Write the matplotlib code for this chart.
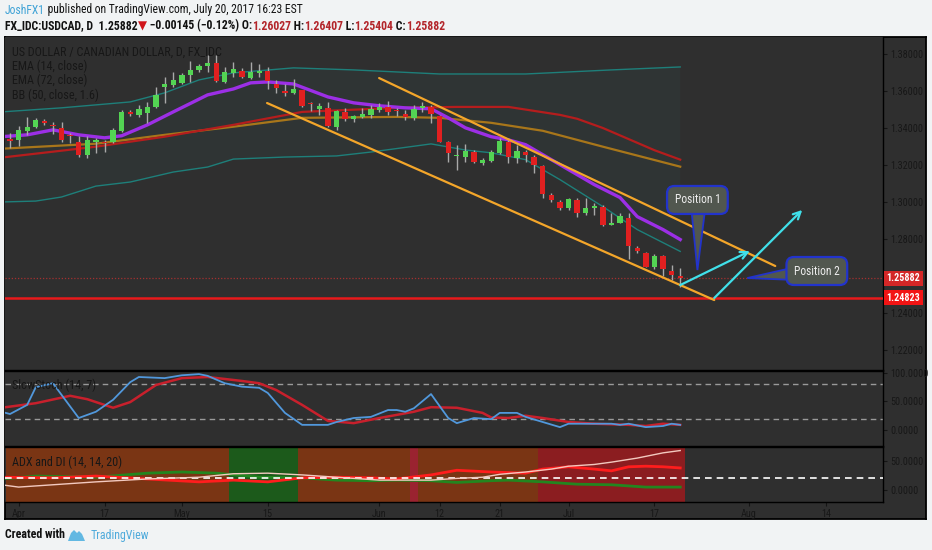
import numpy as np
import matplotlib.pyplot as plt
from matplotlib.patches import Polygon
from matplotlib import font_manager as fm

# pick a narrow sans if one is installed (the chart text is condensed)
fonts = fm.fontManager.ttflist
names = {f.name for f in fonts}
FAM, STRETCH = 'Lato', 'normal'
for fam in ('Liberation Sans Narrow', 'Roboto Condensed', 'Open Sans Condensed'):
    if fam in names:
        FAM, STRETCH = fam, 'normal'
        break
else:
    for fam in ('DejaVu Sans', 'Noto Sans', 'Open Sans'):
        if any(f.name == fam and 'condensed' in str(f.stretch) for f in fonts):
            FAM, STRETCH = fam, 'condensed'
            break
plt.rcParams['font.family'] = [FAM, 'DejaVu Sans']
plt.rcParams['font.stretch'] = STRETCH

# ---- daily candles (bar index 0 .. 78), USDCAD
opens = [1.3342, 1.3336, 1.3385, 1.3407, 1.3439, 1.3414, 1.3401, 1.3360, 1.3326, 1.3256,
         1.3326, 1.3322, 1.3326, 1.3385, 1.3487, 1.3471, 1.3482, 1.3514, 1.3622, 1.3633,
         1.3644, 1.3687, 1.3714, 1.3735, 1.3751, 1.3649, 1.3698, 1.3708, 1.3671, 1.3698,
         1.3708, 1.3638, 1.3601, 1.3590, 1.3606, 1.3533, 1.3504, 1.3509, 1.3407, 1.3487,
         1.3450, 1.3460, 1.3471, 1.3498, 1.3514, 1.3494, 1.3477, 1.3455, 1.3509, 1.3514,
         1.3466, 1.3326, 1.3248, 1.3245, 1.3272, 1.3212, 1.3223, 1.3266, 1.3326, 1.3239,
         1.3272, 1.3245, 1.3196, 1.3040, 1.3002, 1.2965, 1.3013, 1.2938, 1.2965, 1.2975,
         1.2878, 1.2889, 1.2916, 1.2749, 1.2727, 1.2646, 1.2706, 1.2625, 1.26027]
highs = [1.3374, 1.3412, 1.3460, 1.3455, 1.3450, 1.3433, 1.3433, 1.3374, 1.3358, 1.3358,
         1.3347, 1.3336, 1.3401, 1.3498, 1.3498, 1.3525, 1.3541, 1.3622, 1.3676, 1.3703,
         1.3698, 1.3762, 1.3746, 1.3795, 1.3795, 1.3730, 1.3757, 1.3725, 1.3757, 1.3746,
         1.3730, 1.3660, 1.3638, 1.3665, 1.3608, 1.3541, 1.3536, 1.3541, 1.3498, 1.3509,
         1.3471, 1.3509, 1.3525, 1.3536, 1.3547, 1.3509, 1.3498, 1.3525, 1.3541, 1.3525,
         1.3471, 1.3330, 1.3310, 1.3315, 1.3283, 1.3239, 1.3283, 1.3347, 1.3336, 1.3310,
         1.3283, 1.3256, 1.3202, 1.3051, 1.3013, 1.3024, 1.3024, 1.3024, 1.2997, 1.2986,
         1.2943, 1.2943, 1.2943, 1.2760, 1.2730, 1.2717, 1.2711, 1.2660, 1.26407]
lows = [1.3293, 1.3304, 1.3363, 1.3401, 1.3417, 1.3369, 1.3326, 1.3320, 1.3245, 1.3239,
        1.3266, 1.3272, 1.3320, 1.3379, 1.3466, 1.3460, 1.3428, 1.3509, 1.3536, 1.3622,
        1.3640, 1.3649, 1.3703, 1.3703, 1.3649, 1.3644, 1.3676, 1.3671, 1.3665, 1.3676,
        1.3611, 1.3590, 1.3574, 1.3585, 1.3514, 1.3493, 1.3471, 1.3407, 1.3390, 1.3439,
        1.3433, 1.3455, 1.3455, 1.3487, 1.3471, 1.3466, 1.3444, 1.3444, 1.3487, 1.3428,
        1.3322, 1.3218, 1.3175, 1.3218, 1.3212, 1.3202, 1.3218, 1.3262, 1.3212, 1.3212,
        1.3218, 1.3159, 1.3024, 1.3002, 1.2959, 1.2959, 1.2921, 1.2932, 1.2932, 1.2868,
        1.2873, 1.2886, 1.2690, 1.2727, 1.2646, 1.2640, 1.2602, 1.2580, 1.25404]
closes = [1.3331, 1.3390, 1.3407, 1.3444, 1.3428, 1.3410, 1.3336, 1.3358, 1.3256, 1.3336,
          1.3336, 1.3320, 1.3390, 1.3487, 1.3477, 1.3504, 1.3514, 1.3579, 1.3638, 1.3660,
          1.3687, 1.3714, 1.3735, 1.3751, 1.3654, 1.3703, 1.3719, 1.3676, 1.3703, 1.3708,
          1.3654, 1.3617, 1.3590, 1.3611, 1.3520, 1.3530, 1.3520, 1.3412, 1.3493, 1.3450,
          1.3466, 1.3477, 1.3504, 1.3514, 1.3487, 1.3492, 1.3460, 1.3504, 1.3520, 1.3477,
          1.3326, 1.3266, 1.3252, 1.3277, 1.3218, 1.3229, 1.3272, 1.3331, 1.3245, 1.3277,
          1.3256, 1.3202, 1.3045, 1.3013, 1.2970, 1.3018, 1.2943, 1.2965, 1.2981, 1.2878,
          1.2889, 1.2927, 1.2760, 1.2733, 1.2651, 1.2706, 1.2640, 1.2603, 1.25882]

# ---- overlays (bar index, value)
ema14_bars = [-1, 2, 5, 8, 11, 13, 16, 19, 23, 26, 28, 30, 33, 37, 40, 43, 46, 49, 51, 53,
              56, 58, 60, 62, 65, 68, 71, 73, 76, 78]
ema14_vals = [1.3353, 1.3363, 1.3390, 1.3363, 1.3347, 1.3358, 1.3417, 1.3487, 1.3579, 1.3611,
              1.3644, 1.3649, 1.3638, 1.3568, 1.3536, 1.3520, 1.3509, 1.3504, 1.3455, 1.3401,
              1.3353, 1.3336, 1.3310, 1.3256, 1.3175, 1.3094, 1.3024, 1.2921, 1.2851, 1.2797]
ema72_bars = [-1, 5, 10, 18, 26, 34, 45, 52, 58, 64, 66, 69, 72, 75, 78]
ema72_vals = [1.3240, 1.3272, 1.3299, 1.3353, 1.3417, 1.3487, 1.3509, 1.3514, 1.3514, 1.3471,
              1.3450, 1.3400, 1.3340, 1.3280, 1.3229]
basis_bars = [-1, 10, 18, 26, 34, 45, 50, 56, 62, 69, 78]
basis_vals = [1.3288, 1.3315, 1.3363, 1.3407, 1.3455, 1.3460, 1.3455, 1.3428, 1.3385, 1.3299, 1.3191]
bb_up_bars = [-1, 6, 14, 18, 22, 26, 33, 40, 50, 60, 70, 78]
bb_up_vals = [1.3487, 1.3509, 1.3541, 1.3590, 1.3660, 1.3698, 1.3725, 1.3714, 1.3692, 1.3692,
              1.3714, 1.3730]
bb_lo_bars = [-1, 3, 6, 10, 14, 19, 23, 26, 32, 38, 42, 49, 53, 56, 60, 64, 69, 73, 78]
bb_lo_vals = [1.3000, 1.3005, 1.3027, 1.3086, 1.3108, 1.3162, 1.3189, 1.3232, 1.3243, 1.3249,
              1.3270, 1.3314, 1.3281, 1.3266, 1.3229, 1.3121, 1.2975, 1.2851, 1.2733]

# drawn channel, arrows, levels
chan_up = [(42.96, 1.3670), (89.06, 1.2654)]
chan_lo = [(29.92, 1.3535), (81.96, 1.2470)]
arrow1 = [(78.0, 1.2551), (86.1, 1.2735)]
arrow2 = [(81.96, 1.2481), (92.2, 1.2957)]
support = 1.24823
last_close = 1.25882

# ---- slow stochastic
k_bars = [-1, 0, 2, 3, 5, 8, 10, 12, 14, 15, 18, 20, 22, 23, 25, 27, 29, 30, 32, 34, 37, 38,
          40, 42, 44, 45, 46, 47, 49, 51, 52, 54, 56, 57, 59, 60, 62, 64, 65, 68, 70, 71, 72,
          74, 76, 77, 78]
k_vals = [32, 28, 44, 75, 82, 21, 32, 53, 84, 93, 91, 96, 98, 95, 82, 76, 74, 65, 30, 9, 9, 14,
          21, 23, 35, 35, 32, 38, 63, 21, 12, 21, 19, 30, 30, 23, 14, 5, 11, 11, 11, 9, 11,
          5, 7, 11, 9]
d_bars = [-1, 3, 7, 9, 12, 14, 17, 20, 23, 27, 29, 31, 34, 37, 40, 43, 47, 49, 52, 55, 56, 58,
          60, 62, 65, 68, 72, 74, 76, 78]
d_vals = [39, 47, 60, 54, 39, 49, 79, 91, 93, 86, 82, 70, 44, 16, 12, 21, 32, 40, 39, 30, 22, 21,
          25, 21, 14, 11, 9, 7, 11, 9]

# ---- ADX and DI
adx_bars = [-1, 1, 5, 10, 16, 22, 26, 30, 34, 38, 43, 49, 52, 55, 57, 60, 63, 65, 68, 70, 73, 76, 78]
adx_vals = [9, 5, 9, 14, 19, 22, 28, 29, 26, 22, 17, 17, 20, 22, 27, 31, 36, 41, 44, 48, 55, 64, 68]
dim_bars = [-1, 5, 10, 16, 22, 26, 30, 34, 38, 42, 45, 49, 52, 56, 60, 62, 65, 68, 70, 72, 74, 76, 78]
dim_vals = [22, 21, 24, 19, 14, 17, 14, 21, 22, 21, 19, 26, 34, 31, 29, 36, 40, 36, 33, 40, 41, 40, 38]
dip_bars = [-1, 3, 10, 16, 20, 24, 29, 34, 38, 42, 45, 49, 52, 56, 58, 62, 66, 70, 74, 78]
dip_vals = [19, 24, 22, 29, 31, 29, 22, 21, 17, 16, 17, 16, 13, 16, 17, 14, 10, 9, 5, 5]
zone_start = [0, 26, 34, 47, 48, 62]
zone_end = [25, 33, 46, 47, 61, 78]
zone_kind = ['weak', 'bull', 'weak', 'bear2', 'weak', 'bear']

tick_pos = [1, 11, 20, 30, 43, 50, 57, 65, 75, 86, 95]
tick_lab = ['Apr', '17', 'May', '15', 'Jun', '12', '21', 'Jul', '17', 'Aug', '14']

# ---------------------------------------------------------------- layout
W, H = 932, 550
BG = '#2f2f2f'
TXT = '#171717'
fig = plt.figure(figsize=(W / 100, H / 100), dpi=100, facecolor='#f1f3f4')
rend = fig.canvas.get_renderer()


def text_w(s, size, **kw):
    t = fig.text(0, 0, s, fontsize=size, **kw)
    w = t.get_window_extent(renderer=rend).width
    t.remove()
    return w


def fit(s, width, base=9, lo=5.5, hi=10, **kw):
    # font size that makes s about `width` pixels wide
    return float(np.clip(base * width / text_w(s, base, **kw), lo, hi))


def rect(x0, y0, x1, y1):
    return [x0 / W, 1 - y1 / H, (x1 - x0) / W, (y1 - y0) / H]


AX_FS = fit('1.38000', 33)
X_FS = fit('May', 17)
LEG_FS = fit('US DOLLAR / CANADIAN DOLLAR, D, FX_IDC', 210)
TAG_FS = fit('1.25882', 33, fontweight='bold')

frame = fig.add_axes(rect(5, 37, 926, 519))
frame.set_facecolor(BG)
frame.set_xticks([]), frame.set_yticks([])
for s in frame.spines.values():
    s.set_color('black'), s.set_linewidth(1.3)

ax = fig.add_axes(rect(5, 37, 883, 370))
ax_st = fig.add_axes(rect(5, 371, 883, 446))
ax_adx = fig.add_axes(rect(5, 447, 883, 502))
xlim = (-0.58, 101.6)
for a in (ax, ax_st, ax_adx):
    a.set_facecolor(BG)
    a.set_xlim(*xlim)
    a.yaxis.tick_right()
    a.tick_params(axis='y', colors='#151515', labelcolor=TXT, labelsize=AX_FS, length=3, pad=2)
    a.spines['left'].set_visible(False)
    for s in ('right', 'top', 'bottom'):
        a.spines[s].set_color('black'), a.spines[s].set_linewidth(1)
    a.set_xticks([])
ax.spines['top'].set_visible(False)

# ---------------------------------------------------------------- main pane
ax.set_ylim(1.20919, 1.38919)
price_ticks = [1.22, 1.24, 1.28, 1.30, 1.32, 1.34, 1.36, 1.38]
ax.set_yticks(price_ticks)
ax.set_yticklabels(['%.5f' % v for v in price_ticks])

ax.fill(np.r_[bb_up_bars, bb_lo_bars[::-1]], np.r_[bb_up_vals, bb_lo_vals[::-1]],
        color='#3a8f8a', alpha=0.06, lw=0, zorder=1)
ax.plot(bb_up_bars, bb_up_vals, color='#1e7f7a', lw=1, zorder=2)
ax.plot(bb_lo_bars, bb_lo_vals, color='#1e7f7a', lw=1, zorder=2)
ax.plot(basis_bars, basis_vals, color='#a8761a', lw=1.6, zorder=2)
ax.plot(ema72_bars, ema72_vals, color='#b51d1d', lw=1.6, zorder=2)
ax.plot(ema14_bars, ema14_vals, color='#9c2fe6', lw=2.4, zorder=2)

o, h, l, c = map(np.array, (opens, highs, lows, closes))
idx = np.arange(len(c))
ax.vlines(idx, l, h, color='#a9a9a9', lw=1, zorder=3)
body = np.maximum(np.abs(c - o), 0.0003)
ax.bar(idx, body, bottom=np.minimum(o, c), width=0.62,
       color=np.where(c >= o, '#53d453', '#e02020'), zorder=4)

ax.axhline(last_close, color='#a33030', lw=0.9, ls=(0, (1, 1.5)), zorder=2)
ax.axhline(support, color='#e8191b', lw=1.8, zorder=5)

for line in (chan_up, chan_lo):
    (x0, y0), (x1, y1) = line
    ax.plot([x0, x1], [y0, y1], color='#f4a62a', lw=1.6, zorder=5, solid_capstyle='round')
for (x0, y0), (x1, y1) in (arrow1, arrow2):
    ax.annotate('', xy=(x1, y1), xytext=(x0, y0),
                arrowprops=dict(arrowstyle='->', color='#40e0ea', lw=1.6, mutation_scale=13,
                                shrinkA=0, shrinkB=0), zorder=6)

# callouts
BOX_FS = fit('Position 1', 46)
BOXFC, BOXEC = '#51574f', '#2233cc'
ax.add_patch(Polygon([(79.3, 1.2960), (80.9, 1.2960), (80.0, 1.2632)], closed=True,
                     fc=BOXFC, ec=BOXEC, lw=1.3, zorder=7))
ax.text(80.0, 1.3011, 'Position 1', ha='center', va='center', color='#eeeeee', fontsize=BOX_FS,
        zorder=8, bbox=dict(boxstyle='round,pad=0.65', fc=BOXFC, ec=BOXEC, lw=1.6))
ax.add_patch(Polygon([(91.6, 1.2650), (91.6, 1.2578), (85.8, 1.2589)], closed=True,
                     fc=BOXFC, ec=BOXEC, lw=1.3, zorder=7))
ax.text(93.9, 1.2627, 'Position 2', ha='center', va='center', color='#eeeeee', fontsize=BOX_FS,
        zorder=8, bbox=dict(boxstyle='round,pad=0.65', fc=BOXFC, ec=BOXEC, lw=1.6))

# price tags on the axis
tr = ax.get_yaxis_transform()
for val, col in ((last_close, '#d42727'), (support, '#f21414')):
    ax.text(1.004, val, '%.5f' % val, transform=tr, ha='left', va='center',
            color='white', fontsize=TAG_FS, fontweight='bold', clip_on=False, zorder=9,
            bbox=dict(boxstyle='square,pad=0.25', fc=col, ec='none'))

legend = ['US DOLLAR / CANADIAN DOLLAR, D, FX_IDC', 'EMA (14, close)', 'EMA (72, close)',
          'BB (50, close, 1.6)']
for i, s in enumerate(legend):
    ax.text(0.008, 0.955 - i * 0.043, s, transform=ax.transAxes, color=TXT, fontsize=LEG_FS,
            va='center', zorder=9)

# ---------------------------------------------------------------- stochastic
ax_st.set_ylim(-28.1, 103.5)
ax_st.set_yticks([0, 50, 100])
ax_st.set_yticklabels(['0.0000', '50.0000', '100.0000'])
for lv in (20, 80):
    ax_st.axhline(lv, color='#9a9a9a', lw=1, ls=(0, (4, 3)))
ax_st.plot(d_bars, d_vals, color='#c8202c', lw=1.8)
ax_st.plot(k_bars, k_vals, color='#5198dc', lw=1.3)
ax_st.text(0.008, 0.81, 'SlowStoch (14, 7)', transform=ax_st.transAxes, color=TXT,
           fontsize=LEG_FS, va='center')

# ---------------------------------------------------------------- ADX
ax_adx.set_ylim(-20.7, 74.1)
ax_adx.set_yticks([0, 50])
ax_adx.set_yticklabels(['0.0000', '50.0000'])
zone_col = {'weak': '#7a3514', 'bull': '#1c5a1b', 'bear': '#8b1d20', 'bear2': '#9a2330'}
for s, e, k in zip(zone_start, zone_end, zone_kind):
    ax_adx.axvspan(s - 0.5, e + 0.5, color=zone_col[k], lw=0, zorder=0)
ax_adx.set_xlim(*xlim)
ax_adx.axhline(20, color='white', lw=1.2, ls=(0, (4, 3)), zorder=4)
ax_adx.plot(dip_bars, dip_vals, color='#23861f', lw=2, zorder=2)
ax_adx.plot(dim_bars, dim_vals, color='#ff1d1d', lw=2, zorder=3)
ax_adx.plot(adx_bars, adx_vals, color='#f3c9bf', lw=1, zorder=5)
ax_adx.text(0.008, 0.727, 'ADX and DI (14, 14, 20)', transform=ax_adx.transAxes, color=TXT,
            fontsize=LEG_FS, va='center', zorder=6)

ax_adx.set_xticks(tick_pos)
ax_adx.set_xticklabels(tick_lab)
ax_adx.tick_params(axis='x', colors='#151515', labelcolor=TXT, labelsize=X_FS, length=3, pad=2)

# ---------------------------------------------------------------- header / footer
def line_of_text(x, y, parts, size, weight='normal'):
    for s, col in parts:
        t = fig.text(x / W, 1 - y / H, s, color=col, fontsize=size, va='center', ha='left',
                     fontweight=weight)
        x += t.get_window_extent(renderer=rend).width


RED = '#b3262b'
head1 = [('JoshFX1', '#3ea2d6'),
         (' published on TradingView.com, July 20, 2017 16:23 EST', '#111111')]
head2 = [('FX_IDC:USDCAD, D  1.25882', '#111111'), ('\u25bc', '#d0141a'),
         (' \u22120.00145 (\u22120.12%) O:', '#111111'), ('1.26027', RED),
         (' H:', '#111111'), ('1.26407', RED), (' L:', '#111111'), ('1.25404', RED),
         (' C:', '#111111'), ('1.25882', RED)]
line_of_text(5, 10, head1, fit(''.join(p[0] for p in head1), 300))
line_of_text(5, 26, head2, fit(''.join(p[0] for p in head2), 440, fontweight='semibold'),
             weight='semibold')

FOOT_FS = fit('Created with', 60, fontweight='semibold')
fig.text(5 / W, 1 - 535 / H, 'Created with', color='#111111', fontsize=FOOT_FS, va='center',
         fontweight='semibold')
logo = [(68, 541), (71, 533), (74, 530), (77, 533), (79, 531), (82, 534), (85, 541)]
fig.patches.append(Polygon([(x / W, 1 - y / H) for x, y in logo], closed=True,
                           transform=fig.transFigure, fc='#62b8e2', ec='none'))
fig.text(91 / W, 1 - 535 / H, 'TradingView', color='#4eaadb', fontsize=FOOT_FS, va='center')

fig.savefig('out.png', dpi=100, facecolor=fig.get_facecolor())
